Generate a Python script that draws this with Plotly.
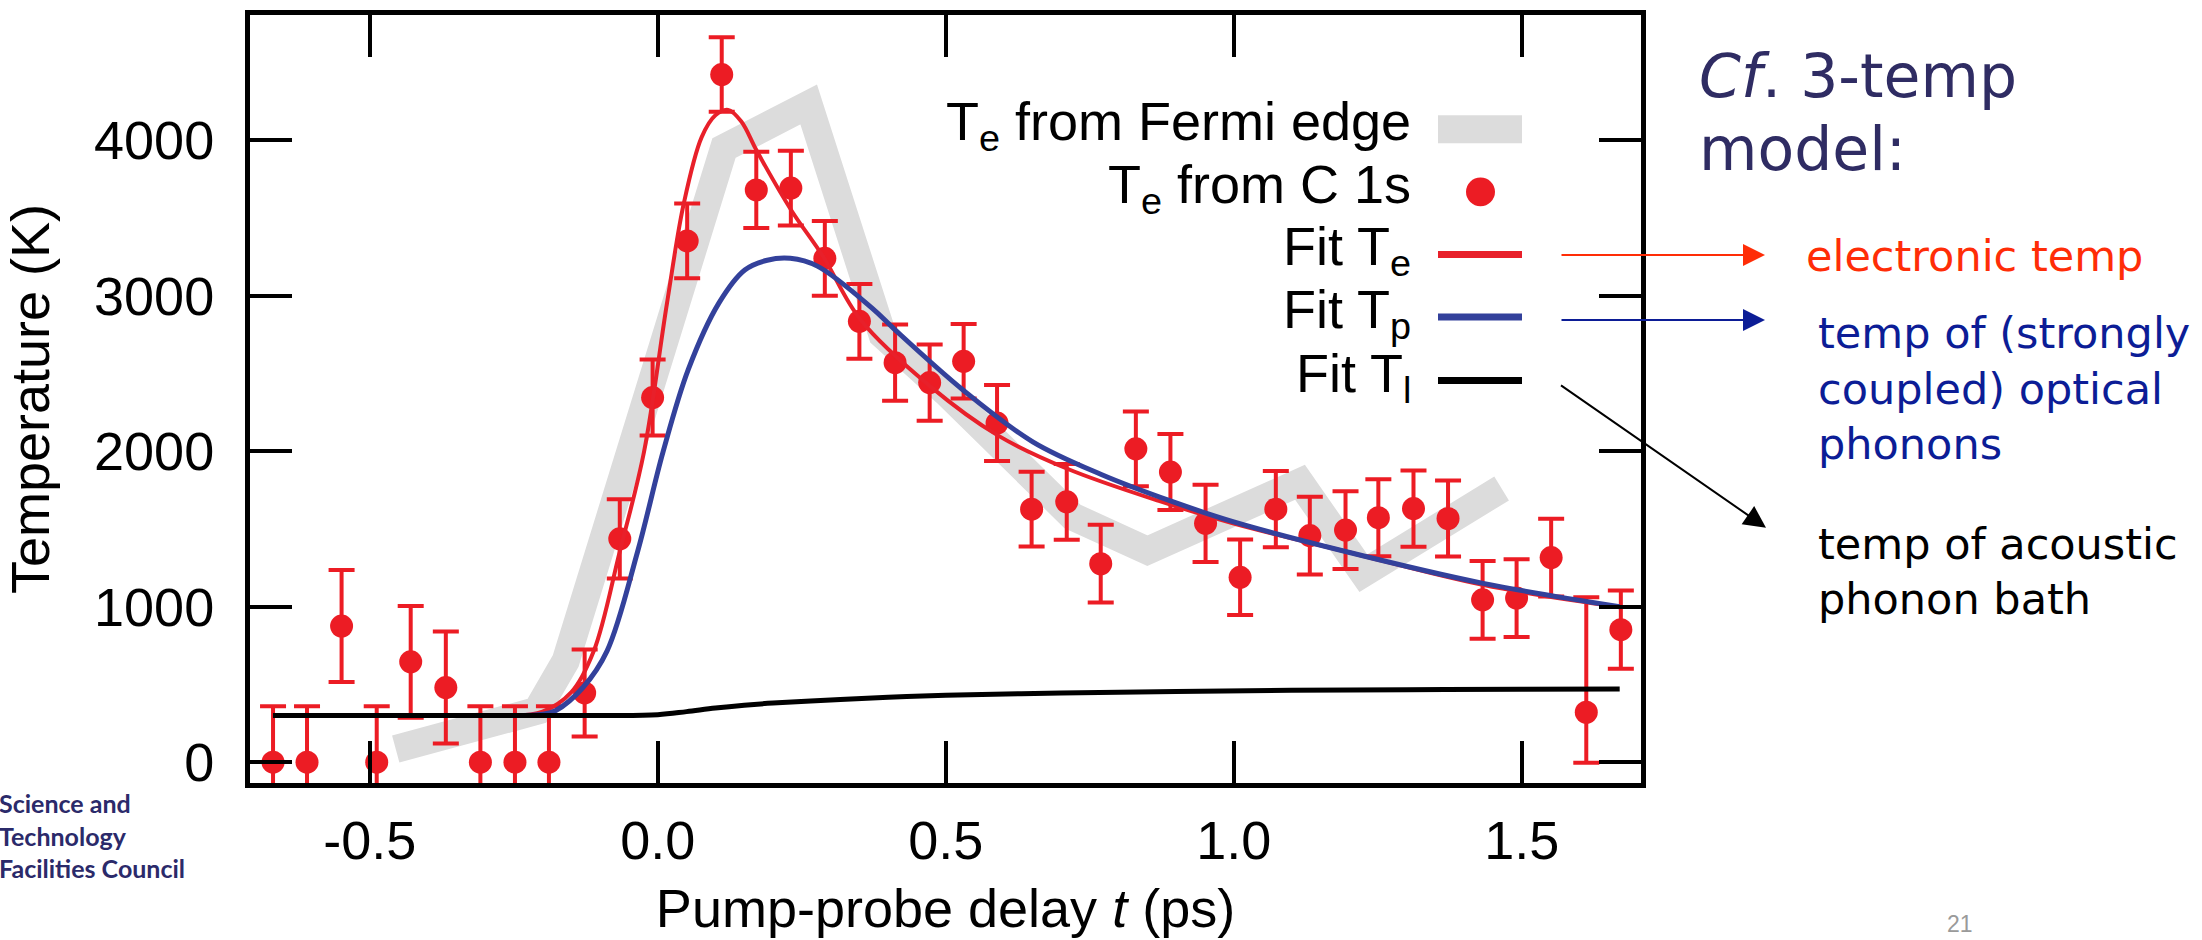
import plotly.graph_objects as go

# ---------------- data ----------------
t_c1s = [-0.668, -0.609, -0.549, -0.488, -0.429, -0.368, -0.308, -0.248, -0.189, -0.127,
         -0.066, -0.009, 0.051, 0.111, 0.171, 0.231, 0.290, 0.350, 0.412, 0.472,
         0.531, 0.589, 0.649, 0.710, 0.769, 0.830, 0.890, 0.951, 1.011, 1.073,
         1.132, 1.194, 1.251, 1.312, 1.372, 1.432, 1.491, 1.551, 1.612, 1.672]
T_c1s = [0, 0, 875, 0, 645, 480, 0, 0, 0, 445,
         1436, 2345, 3352, 4422, 3680, 3692, 3240, 2835, 2569, 2441,
         2578, 2181, 1627, 1674, 1276, 2015, 1866, 1536, 1189, 1627,
         1457, 1493, 1572, 1631, 1567, 1044, 1055, 1316, 321, 852]
err_plus = [360, 360, 360, 360, 360, 360, 360, 360, 360, 280,
            255, 245, 240, 240, 245, 240, 240, 240, 245, 245,
            240, 245, 240, 243, 250, 240, 245, 248, 243, 245,
            250, 250, 248, 245, 245, 250, 250, 250, 740, 252]
err_minus = [360, 360, 360, 360, 360, 360, 360, 360, 360, 280,
             255, 245, 240, 240, 245, 240, 240, 240, 245, 245,
             240, 245, 240, 243, 250, 240, 245, 248, 243, 245,
             250, 250, 248, 245, 245, 250, 250, 250, 325, 252]

t_fermi = [-0.455, -0.21, -0.16, 0.115, 0.262, 0.39, 0.50, 0.62, 0.72, 0.85, 1.115, 1.225, 1.465]
T_fermi = [85, 330, 650, 3950, 4230, 2750, 2380, 1920, 1580, 1360, 1800, 1215, 1760]

t_fit_e = [-0.25, -0.2, -0.15, -0.111, -0.066, -0.024, 0.016, 0.045, 0.076, 0.10, 0.122,
           0.145, 0.172, 0.232, 0.287, 0.352, 0.472, 0.591, 0.711, 0.87, 1.0, 1.194, 1.432, 1.67]
T_fit_e = [300, 325, 450, 716, 1355, 1994, 2952, 3591, 4018, 4160, 4195,
           4120, 3930, 3548, 3252, 2845, 2420, 2100, 1887, 1680, 1535, 1355, 1140, 997]

t_fit_p = [-0.25, -0.2, -0.177, -0.13, -0.088, -0.035, 0.009, 0.053, 0.106, 0.151, 0.19,
           0.23, 0.277, 0.372, 0.412, 0.531, 0.651, 0.77, 0.89, 1.0, 1.194, 1.433, 1.67]
T_fit_p = [300, 308, 332, 480, 716, 1355, 1994, 2526, 2952, 3165, 3228,
           3240, 3190, 2920, 2780, 2390, 2060, 1850, 1680, 1545, 1355, 1150, 1000]

t_fit_l = [-0.668, -0.1, 0.0, 0.05, 0.1, 0.15, 0.2, 0.3, 0.4, 0.5, 0.7, 0.9, 1.1, 1.3, 1.5, 1.67]
T_fit_l = [300, 300, 305, 325, 348, 366, 380, 400, 418, 430, 445, 455, 462, 466, 469, 471]

x_tickvals = [-0.5, 0.0, 0.5, 1.0, 1.5]
x_ticktext = ["-0.5", "0.0", "0.5", "1.0", "1.5"]
y_tickvals = [0, 1000, 2000, 3000, 4000]
y_ticktext = ["0", "1000", "2000", "3000", "4000"]

legend_labels = ["T<sub>e</sub> from Fermi edge", "T<sub>e</sub> from C 1s",
                 "Fit T<sub>e</sub>", "Fit T<sub>p</sub>", "Fit T<sub>l</sub>"]

# ---------------- styling ----------------
W, H = 2202, 940
PL, PR, PT, PB = 250, 1641, 10, 783
FONT = "Liberation Sans, Arial, sans-serif"
SLIDE_FONT = "DejaVu Sans, Verdana, sans-serif"
RED_PT = "#ec1c24"
RED_FIT = "#e8202a"
BLUE_FIT = "#33419b"
GRAY = "#dcdcdc"


def px(x):
    return (x - PL) / (PR - PL)


def py(y):
    return (PB - y) / (PB - PT)


fig = go.Figure()

fig.add_trace(go.Scatter(x=t_fermi, y=T_fermi, mode="lines",
                         line=dict(color=GRAY, width=28), showlegend=False,
                         name="Te from Fermi edge"))
fig.add_trace(go.Scatter(x=t_c1s, y=T_c1s, mode="markers",
                         marker=dict(color=RED_PT, size=23),
                         error_y=dict(type="data", array=err_plus, arrayminus=err_minus,
                                      symmetric=False, color=RED_PT, thickness=4, width=13),
                         showlegend=False, name="Te from C 1s"))
fig.add_trace(go.Scatter(x=t_fit_e, y=T_fit_e, mode="lines", line_shape="spline",
                         line=dict(color=RED_FIT, width=4), showlegend=False, name="Fit Te"))
fig.add_trace(go.Scatter(x=t_fit_p, y=T_fit_p, mode="lines", line_shape="spline",
                         line=dict(color=BLUE_FIT, width=5), showlegend=False, name="Fit Tp"))
fig.add_trace(go.Scatter(x=t_fit_l, y=T_fit_l, mode="lines", line_shape="spline",
                         line=dict(color="black", width=5), showlegend=False, name="Fit Tl"))

axis_common = dict(showgrid=False, zeroline=False, showline=True, linecolor="black",
                   linewidth=5, mirror="ticks", ticks="inside", tickcolor="black",
                   tickwidth=4, ticklen=42, tickfont=dict(family=FONT, size=54, color="black"))

fig.update_xaxes(range=[-0.708, 1.707], tickvals=x_tickvals, ticktext=x_ticktext,
                 title=dict(text="Pump-probe delay <i>t</i> (ps)",
                            font=dict(family=FONT, size=54, color="black"), standoff=22),
                 ticklabelstandoff=6, **axis_common)
fig.update_yaxes(range=[-134, 4805], tickvals=y_tickvals, ticktext=y_ticktext,
                 title=dict(text="Temperature (K)",
                            font=dict(family=FONT, size=54, color="black"), standoff=44),
                 ticklabelstandoff=20, **axis_common)

annotations = []
shapes = []

# custom legend (text on left, symbol on right)
row_y = [125, 188, 251, 314, 378]
for lab, yy in zip(legend_labels, row_y):
    annotations.append(dict(x=px(1413), y=py(yy - 4), xref="paper", yref="paper",
                            text=lab, showarrow=False, xanchor="right", yanchor="middle",
                            font=dict(family=FONT, size=54, color="black")))
shapes.append(dict(type="rect", xref="paper", yref="paper", x0=px(1438), x1=px(1522),
                   y0=py(139), y1=py(111), fillcolor=GRAY, line=dict(width=0)))
shapes.append(dict(type="circle", xref="paper", yref="paper", x0=px(1466), x1=px(1495),
                   y0=py(202.5), y1=py(173.5), fillcolor=RED_PT, line=dict(width=0)))
for yy, col in zip(row_y[2:], [RED_FIT, BLUE_FIT, "black"]):
    shapes.append(dict(type="line", xref="paper", yref="paper", x0=px(1438), x1=px(1522),
                       y0=py(yy), y1=py(yy), line=dict(color=col, width=7)))

# right-hand notes
NAVY = "#2f2c63"
notes = [
    ("<i>Cf</i>. 3-temp", 1697, 71, 60, NAVY),
    ("model:", 1697, 145, 60, NAVY),
    ("electronic temp", 1804, 253, 43, "#ff2d07"),
    ("temp of (strongly", 1816, 330, 43, "#0c1d96"),
    ("coupled) optical", 1816, 386, 43, "#0c1d96"),
    ("phonons", 1816, 442, 43, "#0c1d96"),
    ("temp of acoustic", 1816, 542, 43, "black"),
    ("phonon bath", 1816, 598, 43, "black"),
]
for txt, x0, yc, fs, col in notes:
    annotations.append(dict(x=px(x0), y=py(yc), xref="paper", yref="paper", text=txt,
                            showarrow=False, xanchor="left", yanchor="middle",
                            font=dict(family=SLIDE_FONT, size=fs, color=col)))

# arrows
for (tipx, tipy, tailx, taily, col) in [(1765, 251.6, 1560, 251.6, "#ff2d07"),
                                         (1765, 317, 1560, 317, "#0c1d96"),
                                         (1766, 526, 1559.5, 382.7, "black")]:
    annotations.append(dict(x=px(tipx), y=py(tipy), xref="paper", yref="paper",
                            ax=tailx - tipx, ay=taily - tipy, axref="pixel", ayref="pixel",
                            text="", showarrow=True, arrowhead=2, arrowsize=2.2,
                            arrowwidth=2, arrowcolor=col))

# logo text (one block so the lines do not collide)
annotations.append(dict(x=px(-3), y=py(836), xref="paper", yref="paper",
                        text="Science and<br>Technology<br>Facilities Council",
                        showarrow=False, xanchor="left", yanchor="middle", align="left",
                        font=dict(family="Lato, sans-serif", size=25, color="#2b2a6a",
                                  weight="bold")))

annotations.append(dict(x=px(1960), y=py(925), xref="paper", yref="paper", text="21",
                        showarrow=False, xanchor="center", yanchor="middle",
                        font=dict(family=FONT, size=23, color="#9a9a9a")))

fig.update_layout(width=W, height=H, autosize=False,
                  margin=dict(l=PL, r=W - PR, t=PT, b=H - PB, pad=0),
                  paper_bgcolor="white", plot_bgcolor="white",
                  annotations=annotations, shapes=shapes, showlegend=False)

fig.write_html("out.html")
